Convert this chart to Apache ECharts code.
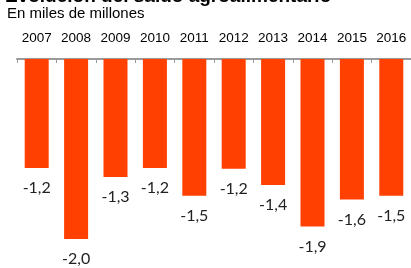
<!DOCTYPE html>
<html>
<head>
<meta charset="utf-8">
<script src="https://cdn.jsdelivr.net/npm/echarts@6/dist/echarts.min.js"></script>
<style>html,body{margin:0;padding:0;background:#fff}#c{width:411px;height:268px}</style>
</head>
<body>
<div id="c"></div>
<script>
const years = ['2007','2008','2009','2010','2011','2012','2013','2014','2015','2016'];
const saldo = [-1.21, -2.0, -1.31, -1.21, -1.52, -1.22, -1.40, -1.86, -1.56, -1.52];
const titleText = 'Evolución del saldo agroalimentario';
const subtitleText = 'En miles de millones';

const chart = echarts.init(document.getElementById('c'), null, {renderer: 'canvas'});
chart.setOption({
  animation: false,
  backgroundColor: '#fff',
  title: [
    {text: titleText, left: 5, top: -13, padding: 0,
     textStyle: {fontFamily: 'Liberation Sans', fontSize: 19, fontWeight: 'bold', color: '#000'}},
    {text: subtitleText, left: 7, top: 6, padding: 0,
     textStyle: {fontFamily: 'Liberation Sans', fontSize: 15, fontWeight: 'normal', color: '#000'}}
  ],
  grid: {left: 17, right: 0, top: 59, bottom: 29},
  xAxis: {
    type: 'category', data: years, position: 'top',
    axisLine: {lineStyle: {color: '#9a9a9a', width: 2}},
    axisTick: {show: true, inside: true, length: 4, lineStyle: {color: '#9a9a9a', width: 1}},
    axisLabel: {fontFamily: 'Liberation Sans', fontSize: 13.5, color: '#000', margin: 14}
  },
  yAxis: {
    type: 'value', min: -2, max: 0, show: false, splitLine: {show: false}
  },
  series: [{
    type: 'bar', data: saldo, barWidth: 24,
    itemStyle: {color: '#ff4000'},
    label: {
      show: true, position: 'bottom', distance: 12,
      fontFamily: 'Lato', fontSize: 16, color: '#222',
      formatter: p => p.value.toFixed(1).replace('.', ',')
    }
  }]
});
</script>
</body>
</html>
